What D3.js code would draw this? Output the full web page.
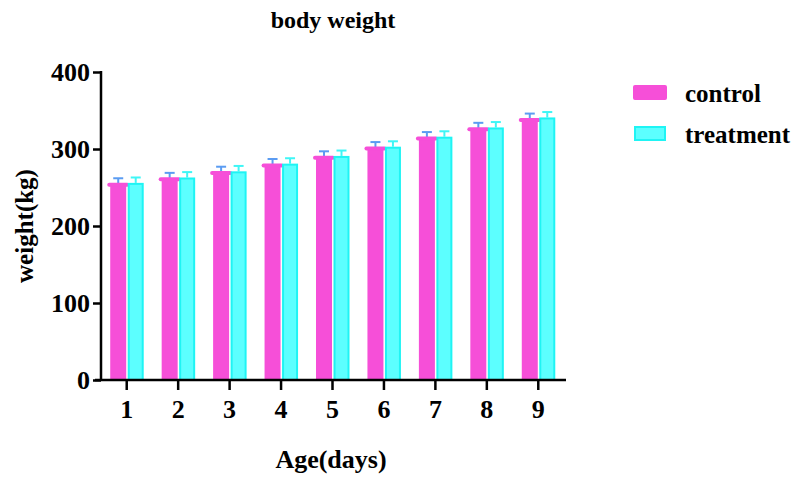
<!DOCTYPE html>
<html>
<head>
<meta charset="utf-8">
<script src="https://cdn.jsdelivr.net/npm/d3@7"></script>
<style>
  body { margin: 0; background: #fff; }
  text { font-family: "Liberation Serif", "Times New Roman", serif; font-weight: bold; }
</style>
</head>
<body>
<div id="chart"></div>
<script>
const days = [1, 2, 3, 4, 5, 6, 7, 8, 9];
const control = [255, 262, 270, 280, 290, 302, 315, 327, 339];
const treatment = [256, 263, 271, 281, 291, 303, 316, 328, 341];
const controlErr = [7, 7, 7, 7, 7, 7, 7, 7, 7];
const treatmentErr = [7, 7, 7, 7, 7, 7, 7, 7, 7];
const yTicks = [0, 100, 200, 300, 400];

const width = 797, height = 477;
const plotLeft = 101, plotRight = 564, plotTop = 72, plotBottom = 380;

const svg = d3.select('#chart').append('svg')
    .attr('width', width)
    .attr('height', height);

const x = d3.scaleBand()
    .domain(days)
    .range([plotLeft, plotRight]);

const y = d3.scaleLinear()
    .domain([0, 400])
    .range([plotBottom, plotTop]);

const barW = 16;

// control bars
const cg = svg.append('g');
days.forEach((d, i) => {
    const cx = x(d) + x.bandwidth() / 2;
    const x0 = cx - barW - 0.5;
    // error bar
    cg.append('line')
        .attr('x1', x0 + barW / 2).attr('x2', x0 + barW / 2)
        .attr('y1', y(control[i])).attr('y2', y(control[i] + controlErr[i]))
        .attr('stroke', '#5b9cf2').attr('stroke-width', 2);
    cg.append('line')
        .attr('x1', x0 + barW / 2 - 5).attr('x2', x0 + barW / 2 + 5)
        .attr('y1', y(control[i] + controlErr[i])).attr('y2', y(control[i] + controlErr[i]))
        .attr('stroke', '#5b9cf2').attr('stroke-width', 2);
    cg.append('rect')
        .attr('x', x0).attr('y', y(control[i]))
        .attr('width', barW).attr('height', y(0) - y(control[i]))
        .attr('fill', '#f64fd8');
    cg.append('rect')
        .attr('x', x0 - 3).attr('y', y(control[i]) - 1)
        .attr('width', barW + 6).attr('height', 4)
        .attr('rx', 2)
        .attr('fill', '#f64fd8');
});

// treatment bars
const tg = svg.append('g');
days.forEach((d, i) => {
    const cx = x(d) + x.bandwidth() / 2;
    const x0 = cx + 1;
    tg.append('line')
        .attr('x1', x0 + barW / 2).attr('x2', x0 + barW / 2)
        .attr('y1', y(treatment[i])).attr('y2', y(treatment[i] + treatmentErr[i]))
        .attr('stroke', '#3ff6f6').attr('stroke-width', 2);
    tg.append('line')
        .attr('x1', x0 + barW / 2 - 5).attr('x2', x0 + barW / 2 + 5)
        .attr('y1', y(treatment[i] + treatmentErr[i])).attr('y2', y(treatment[i] + treatmentErr[i]))
        .attr('stroke', '#3ff6f6').attr('stroke-width', 2);
    tg.append('rect')
        .attr('x', x0 + 1).attr('y', y(treatment[i]) + 1)
        .attr('width', barW - 2).attr('height', y(0) - y(treatment[i]) - 1)
        .attr('fill', '#5cffff')
        .attr('stroke', '#1ff4f4').attr('stroke-width', 2);
});

// axes
const yAxis = d3.axisLeft(y).tickValues(yTicks).tickSize(8).tickSizeOuter(0);
const yg = svg.append('g')
    .attr('transform', `translate(${plotLeft},0)`)
    .call(yAxis);
yg.select('.domain').attr('stroke-width', 2.5).attr('d', `M0,${plotBottom + 1}V${plotTop - 1}`);
yg.selectAll('.tick line').attr('stroke-width', 2.5);
yg.selectAll('.tick text')
    .attr('x', -11)
    .attr('font-size', 26)
    .attr('font-family', '"Liberation Serif", serif')
    .attr('font-weight', 'bold');

const xAxis = d3.axisBottom(x).tickSize(10).tickSizeOuter(0);
const xg = svg.append('g')
    .attr('transform', `translate(0,${plotBottom})`)
    .call(xAxis);
xg.select('.domain').attr('stroke-width', 2.5).attr('d', `M${plotLeft - 6},0H${plotRight + 2}`);
xg.selectAll('.tick line').attr('stroke-width', 2.5);
xg.selectAll('.tick text')
    .attr('y', 20)
    .attr('font-size', 26)
    .attr('font-family', '"Liberation Serif", serif')
    .attr('font-weight', 'bold');

// titles
svg.append('text')
    .attr('x', 333).attr('y', 28)
    .attr('text-anchor', 'middle')
    .attr('font-size', 24)
    .text('body weight');

svg.append('text')
    .attr('x', 331).attr('y', 468)
    .attr('text-anchor', 'middle')
    .attr('font-size', 26)
    .text('Age(days)');

svg.append('text')
    .attr('transform', 'translate(33,226) rotate(-90)')
    .attr('text-anchor', 'middle')
    .attr('font-size', 25)
    .text('weight(kg)');

// legend
const legend = svg.append('g');
legend.append('rect')
    .attr('x', 633).attr('y', 85).attr('width', 34).attr('height', 15)
    .attr('rx', 2).attr('fill', '#f64fd8');
legend.append('rect')
    .attr('x', 635).attr('y', 127).attr('width', 30).attr('height', 13)
    .attr('fill', '#5cffff').attr('stroke', '#1ff4f4').attr('stroke-width', 2);
legend.append('text')
    .attr('x', 685).attr('y', 102)
    .attr('font-size', 25)
    .text('control');
legend.append('text')
    .attr('x', 685).attr('y', 143)
    .attr('font-size', 25)
    .text('treatment');
</script>
</body>
</html>
